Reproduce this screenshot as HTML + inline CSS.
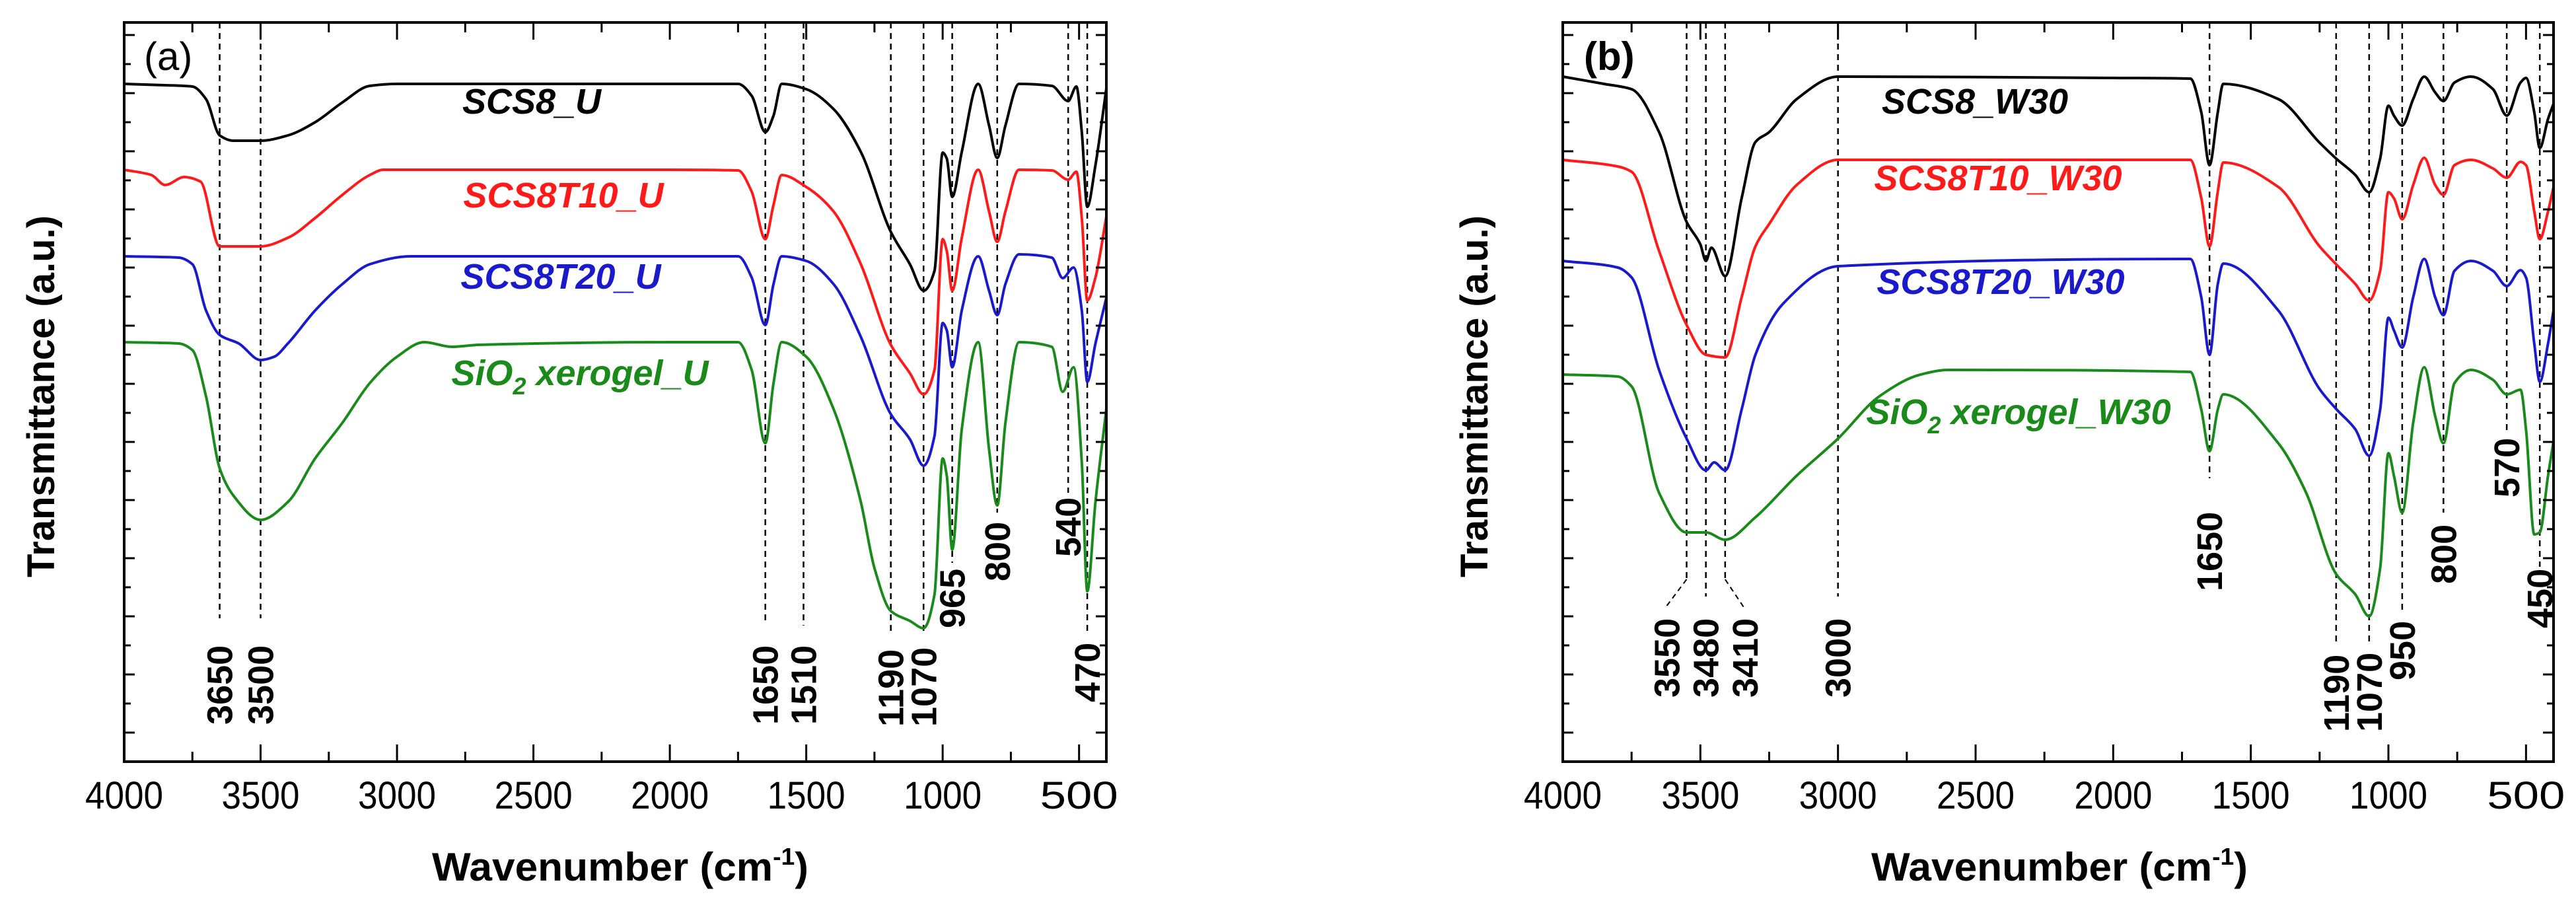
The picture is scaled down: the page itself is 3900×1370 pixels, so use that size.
<!DOCTYPE html>
<html><head><meta charset="utf-8">
<style>
html,body{margin:0;padding:0;background:#fff;}
svg{display:block;}
text{font-family:"Liberation Sans",Arial,sans-serif;}
</style></head>
<body>
<svg id="fig" width="3900" height="1370" viewBox="0 0 3900 1370" xmlns="http://www.w3.org/2000/svg"></svg>
<script>
// ---------- DATA ----------
const a_black_w = [4000,3850,3750,3700,3650,3600,3500,3400,3300,3200,3100,3000,2000,1750,1700,1650,1620,1590,1500,1400,1300,1190,1120,1070,1030,1000,985,965,930,870,830,800,770,720,600,540,510,490,470,440,400];
const a_black_t = [1026,1024,1022,1003,948,940,940,948,968,998,1023,1026,1026,1026,1008,953,978,1026,1018,988,923,802,753,713,743,922,913,855,923,1026,963,914,963,1026,1023,1000,1022,953,840,903,1019];
const a_red_w = [4000,3900,3850,3780,3720,3650,3600,3500,3400,3300,3200,3100,3050,2000,1750,1700,1650,1620,1590,1500,1400,1300,1190,1120,1070,1030,1000,985,965,930,870,830,800,770,720,600,540,510,490,470,440,400];
const a_red_t = [896,888,873,885,878,780,780,780,793,823,858,888,896,896,895,863,791,843,888,870,833,753,631,588,556,593,791,773,713,793,896,833,787,833,896,895,881,893,823,698,733,825];
const a_blue_w = [4000,3800,3750,3700,3650,3580,3500,3450,3400,3300,3200,3100,2950,2000,1750,1700,1650,1620,1590,1500,1400,1300,1190,1120,1070,1030,1000,985,965,930,870,830,800,770,720,600,560,520,490,470,440,400];
const a_blue_t = [765,763,753,683,646,633,608,613,633,683,723,753,765,765,765,733,661,723,765,758,723,643,526,488,448,493,664,653,597,683,765,713,676,723,768,763,732,748,683,575,633,702];
const a_green_w = [4000,3800,3750,3700,3650,3600,3500,3400,3300,3200,3100,3000,2900,2800,2700,2000,1750,1700,1650,1620,1590,1500,1400,1300,1250,1190,1120,1070,1030,1000,985,965,930,870,830,800,770,720,600,560,520,490,470,440,400];
const a_green_t = [635,633,623,553,444,403,366,393,459,513,573,613,635,628,631,635,635,593,482,573,635,613,534,393,293,228,213,202,253,459,433,321,503,635,473,388,513,635,628,560,597,453,258,393,534];
const b_black_w = [4000,3850,3750,3650,3550,3500,3480,3460,3410,3350,3300,3250,3150,3000,2000,1720,1680,1650,1620,1600,1400,1250,1190,1120,1070,1030,1000,980,950,910,870,830,800,760,700,620,570,520,500,470,450,420,400];
const b_black_t = [1037,1026,1018,953,817,783,758,778,735,853,938,953,1003,1037,1035,1034,983,903,983,1026,1003,937,913,888,862,913,993,978,963,1003,1037,1013,1000,1028,1037,1018,978,1028,1035,983,929,973,996];
const b_red_w = [4000,3800,3750,3650,3550,3480,3410,3350,3300,3250,3150,3000,1720,1680,1650,1620,1600,1400,1250,1190,1120,1070,1030,1000,980,950,910,870,830,800,760,700,620,570,520,500,470,450,420,400];
const b_red_t = [911,901,893,773,661,616,612,703,780,814,873,911,911,853,780,863,907,870,780,753,723,698,743,862,853,821,873,914,873,858,903,911,898,884,908,903,833,791,833,870];
const b_blue_w = [4000,3800,3750,3650,3550,3480,3450,3410,3350,3300,3200,3000,1720,1680,1650,1620,1600,1400,1250,1190,1120,1070,1030,1000,980,950,910,870,830,800,760,700,620,570,520,500,470,450,420,400];
const b_blue_t = [758,748,733,593,489,441,453,441,533,616,693,750,761,703,616,723,754,683,564,534,503,463,533,672,653,627,703,761,703,676,743,758,743,720,744,733,633,575,633,683];
const b_green_w = [4000,3800,3750,3650,3550,3480,3410,3300,3150,3000,2850,2700,2600,1720,1680,1650,1620,1600,1400,1300,1190,1120,1070,1030,1000,980,950,910,870,830,800,760,700,620,570,520,500,470,450,420,400];
const b_green_t = [586,583,568,407,347,347,336,370,433,489,553,586,593,590,533,470,533,556,482,408,284,253,220,293,467,433,377,513,597,523,482,573,593,578,556,563,503,344,347,433,485];
const xTickLabels = [4000,3500,3000,2500,2000,1500,1000,500];
const a_bands = ["3650","3500","1650","1510","1190","1070","965","800","540","470"];
const b_bands = ["3550","3480","3410","3000","1650","1190","1070","950","800","570","450"];

// ---------- LAYOUT ----------
const SVGNS="http://www.w3.org/2000/svg";
const svg=document.getElementById('fig');
function el(tag,attrs,parent){const e=document.createElementNS(SVGNS,tag);for(const k in attrs)e.setAttribute(k,attrs[k]);(parent||svg).appendChild(e);return e;}

const panels=[
 {id:'a',x0:188,x1:1675,top:34,bottom:1153,label:'(a)',labelX:218,labelBold:false,
  series:[[a_black_w,a_black_t,'#000','SCS8_U',805,172],[a_red_w,a_red_t,'#ff1a1a','SCS8T10_U',853,314],[a_blue_w,a_blue_t,'#1a1acc','SCS8T20_U',849,437],[a_green_w,a_green_t,'#1a8a1a','xerogel_U',878,583]],
  bands:a_bands,
  bandGeom:{"3650":[936,1097],"3500":[936,1097],"1650":[940,1097],"1510":[947,1097],"1190":[962,1100],"1070":[962,1100],"965":[852,951],"800":[776,880],"540":[746,843],"470":[962,1063]},
  ylabX:62,xlabX:939},
 {id:'b',x0:2366,x1:3866,top:34,bottom:1153,label:'(b)',labelX:2398,labelBold:true,
  series:[[b_black_w,b_black_t,'#000','SCS8_W30',2990,172],[b_red_w,b_red_t,'#ff1a1a','SCS8T10_W30',3025,288],[b_blue_w,b_blue_t,'#1a1acc','SCS8T20_W30',3029,445],[b_green_w,b_green_t,'#1a8a1a','xerogel_W30',3056,642]],
  bands:b_bands,
  bandGeom:{"3550":[877,1056],"3480":[903,1056],"3410":[877,1056],"3000":[903,1056],"1650":[724,895],"1190":[977,1108],"1070":[977,1108],"950":[929,1030],"800":[776,884],"570":[656,753],"450":[858,951]},
  ylabX:2232,xlabX:3118}
];

// monotone cubic (Fritsch-Carlson) path through points with increasing x
function monotone(pts){
  const n=pts.length, dx=[], m=[], t=new Array(n);
  for(let i=0;i<n-1;i++){dx[i]=pts[i+1][0]-pts[i][0];m[i]=(pts[i+1][1]-pts[i][1])/dx[i];}
  t[0]=m[0]; t[n-1]=m[n-2];
  for(let i=1;i<n-1;i++){
    if(m[i-1]*m[i]<=0) t[i]=0;
    else{const w1=2*dx[i]+dx[i-1],w2=dx[i]+2*dx[i-1];t[i]=(w1+w2)/(w1/m[i-1]+w2/m[i]);}
  }
  let d='M'+pts[0][0].toFixed(1)+','+pts[0][1].toFixed(1);
  for(let i=0;i<n-1;i++){
    const h=dx[i]/3;
    d+=' C'+(pts[i][0]+h).toFixed(1)+','+(pts[i][1]+t[i]*h).toFixed(1)+' '+(pts[i+1][0]-h).toFixed(1)+','+(pts[i+1][1]-t[i+1]*h).toFixed(1)+' '+pts[i+1][0].toFixed(1)+','+pts[i+1][1].toFixed(1);
  }
  return d;
}

panels.forEach(P=>{
  const g=el('g',{});
  
  
  const xS=w=>P.x0+(4000-w)*(P.x1-P.x0)/3600;
  const yS=v=>P.bottom-v*(P.bottom-P.top)/1119;

  P.bands.forEach(b=>{
    const w=+b, x=xS(w), geo=P.bandGeom[b];
    const ln=el('line',{x1:x,y1:P.top,x2:x,y2:geo[0],stroke:'#000','stroke-width':2.5,'stroke-dasharray':'9 7'},g);
    
    
    let lx=x;
    if(P.id==='b'&&b==='3550'){lx=x-30;const d=el('line',{x1:x,y1:geo[0],x2:lx,y2:geo[0]+40,stroke:'#000','stroke-width':2,'stroke-dasharray':'8 6'},g);}
    if(P.id==='b'&&b==='3410'){lx=x+30;const d=el('line',{x1:x,y1:geo[0],x2:lx,y2:geo[0]+45,stroke:'#000','stroke-width':2,'stroke-dasharray':'8 6'},g);}
    const t=el('text',{x:0,y:0,transform:'translate('+(lx+19)+','+geo[1]+') rotate(-90)','font-size':54,'font-weight':'bold',fill:'#000'},g);
    t.textContent=b;
    
    
  });

  P.series.forEach((s,i)=>{
    const pts=s[0].map((w,k)=>[xS(w),yS(s[1][k])]);
    const p=el('path',{d:monotone(pts),fill:'none',stroke:s[2],'stroke-width':4,'stroke-linejoin':'round'},g);
    
    
    const t=el('text',{x:s[4],y:s[5],'text-anchor':'middle','font-size':54,'font-weight':'bold','font-style':'italic',fill:s[2]},g);
    if(i===3){
      t.innerHTML='SiO<tspan font-size="36" dy="14">2</tspan><tspan dy="-14"> '+s[3]+'</tspan>';
    } else t.textContent=s[3];
    
    
  });

  const fr=el('rect',{x:P.x0,y:P.top,width:P.x1-P.x0,height:P.bottom-P.top,fill:'none',stroke:'#000','stroke-width':4},g);
  
  
  for(let w=4000;w>=500;w-=250){
    const x=xS(w), L=(w%500===0)?26:15;
    const t1=el('line',{x1:x,y1:P.bottom,x2:x,y2:P.bottom-L,stroke:'#000','stroke-width':3},g);
    
    
    const t2=el('line',{x1:x,y1:P.top,x2:x,y2:P.top+L,stroke:'#000','stroke-width':3},g);
    
    
  }
  xTickLabels.forEach(w=>{
    const t=el('text',{x:xS(w),y:1224,'text-anchor':'middle','font-size':58,fill:'#000',textLength:118,lengthAdjust:'spacingAndGlyphs'},g);
    t.textContent=w;
    
    
  });
  let k=0;
  for(let v=44;v<1119;v+=44){
    const y=yS(v), L=(k%2===0)?16:10; k++;
    const a=el('line',{x1:P.x0,y1:y,x2:P.x0+L,y2:y,stroke:'#000','stroke-width':3},g);
    
    
    const b=el('line',{x1:P.x1,y1:y,x2:P.x1-L,y2:y,stroke:'#000','stroke-width':3},g);
    
    
  }
  const pl=el('text',{x:P.labelX,y:106,'font-size':60,'font-weight':P.labelBold?'bold':'normal',fill:'#000'},g);
  pl.textContent=P.label;
  
  
  const xl=el('text',{x:P.xlabX,y:1333,'text-anchor':'middle','font-size':60,'font-weight':'bold',fill:'#000',textLength:570,lengthAdjust:'spacingAndGlyphs'},g);
  xl.innerHTML='Wavenumber (cm<tspan font-size="36" dy="-24">-1</tspan><tspan dy="24">)</tspan>';
  
  
  const yl=el('text',{x:0,y:0,transform:'translate('+(P.ylabX+20)+',600) rotate(-90)','text-anchor':'middle','font-size':58,'font-weight':'bold',fill:'#000'},g);
  yl.textContent='Transmittance (a.u.)';
  
  
});
</script>
</body></html>
